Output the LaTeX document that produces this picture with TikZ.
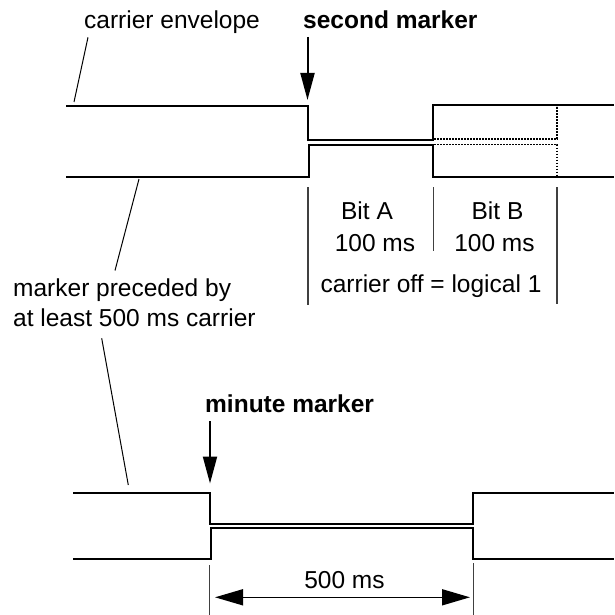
\documentclass[tikz,border=0pt]{standalone}
\usepackage{fontspec}
\setmainfont{Liberation Sans}
\usetikzlibrary{arrows.meta}
\begin{document}
\begin{tikzpicture}[x=1pt,y=-1pt,
  txt/.style={inner sep=0pt,font=\fontsize{24.5}{29.4}\selectfont},
  btxt/.style={txt,font=\fontsize{24.5}{29.4}\selectfont\bfseries},
  env/.style={line width=2pt,line join=miter},
  dotline/.style={line width=1.7pt,dash pattern=on 1.6pt off 1.4pt},
  lead/.style={line width=1pt},
  tickline/.style={line width=1.2pt,draw=black!75},
  markarrow/.style={line width=2pt,-{Triangle[length=27pt,width=14pt]}},
  dimarrow/.style={line width=1.6pt,{Triangle[length=28pt,width=16pt]}-{Triangle[length=28pt,width=16pt]}}]
\useasboundingbox (0,0) rectangle (614,615);
% texts
\node[txt,anchor=base west] (env) at (84,28.5) {carrier envelope};
\node[btxt,anchor=base west] (sm) at (303,29) {second marker};
\node[txt,anchor=base] (ba) at (367,219) {Bit A};
\node[txt,anchor=base] (ta) at (375,251.5) {100 ms};
\node[txt,anchor=base] (bb) at (497.5,219) {Bit B};
\node[txt,anchor=base] (tb) at (494.5,251.5) {100 ms};
\node[txt,anchor=base] (off) at (431,292) {carrier off = logical 1};
\node[txt,anchor=base west] (p1) at (13,296) {marker preceded by};
\node[txt,anchor=base west] (p2) at (13,326) {at least 500 ms carrier};
\node[btxt,anchor=base west] (mm) at (205,412) {minute marker};
\node[txt,anchor=base] (fh) at (344.5,588) {500 ms};
% top envelope
\draw[env] (66,106) -- (307.5,106) -- (307.5,140) -- (433,140) -- (433,105.5) -- (614,105.5);
\draw[env] (66,176.5) -- (308.5,176.5) -- (308.5,145) -- (433,145) -- (433,177) -- (614,177);
\draw[dotline] (434,139) -- (557,139) -- (557,106);
\draw[dotline] (434,144.5) -- (557,144.5) -- (557,177);
% ticks top
\draw[tickline] (308,187) -- (308,305);
\draw[tickline] (433.5,187) -- (433.5,250.5);
\draw[tickline] (557,187) -- (557,304);
% markers
\coordinate (smt) at (307.5,37);
\coordinate (smh) at (307.5,100);
\draw[markarrow] (smt) -- (smh);
\coordinate (mmt) at (210,421);
\coordinate (mmh) at (210,483.5);
\draw[markarrow] (mmt) -- (mmh);
% leaders
\coordinate (l1a) at (88,37.3);
\coordinate (l1b) at (74,102);
\draw[lead] (l1a) -- (l1b);
\coordinate (l2a) at (139,179);
\coordinate (l2b) at (115,270.5);
\draw[lead] (l2a) -- (l2b);
\coordinate (l3a) at (101.7,338.3);
\coordinate (l3b) at (128.3,485);
\draw[lead] (l3a) -- (l3b);
% bottom envelope
\draw[env] (73,492.7) -- (210,492.7) -- (210,524) -- (473.3,524) -- (473.3,492.7) -- (614,492.7);
\draw[env] (73,559) -- (210.5,559) -- (210.5,527.5) -- (473.3,527.5) -- (473.3,558.5) -- (614,558.5);
% ticks bottom
\draw[tickline] (209.5,565) -- (209.5,615);
\draw[tickline] (473.3,563) -- (473.3,615);
\coordinate (da) at (215,597.3);
\coordinate (db) at (470,597.3);
\draw[dimarrow] (da) -- (db);
\end{tikzpicture}
\end{document}
